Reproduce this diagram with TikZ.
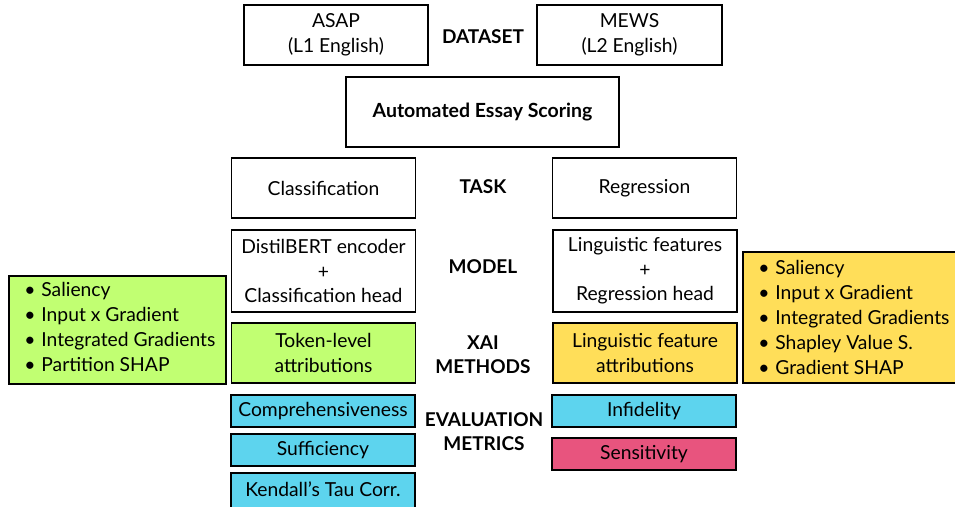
\documentclass[tikz,border=0pt]{standalone}
\usepackage{fontspec}
\setmainfont{Lato}
\definecolor{limegreen}{HTML}{C1FF72}
\definecolor{sunyellow}{HTML}{FFDE59}
\definecolor{skycyan}{HTML}{5DD4EE}
\definecolor{rosepink}{HTML}{E8547E}
\newcommand{\bitem}[1]{\makebox[17pt][l]{\textbullet}#1}

\begin{document}
\begin{tikzpicture}[x=1pt,y=-1pt,
  box/.style={draw=black,line width=1.6pt,minimum width=184pt,inner sep=0pt,align=center,font=\fontsize{19.3}{24.5}\selectfont},
  lbl/.style={align=center,font=\fontsize{19}{24}\selectfont\bfseries},
  listtext/.style={anchor=west,align=left,inner sep=0pt,font=\fontsize{19.3}{24.8}\selectfont}]
  \useasboundingbox (0,0) rectangle (955,506);
  \clip (0,0) rectangle (955,506);

  \node[box,minimum height=60pt] (asap) at (336,35) {ASAP\\(L1 English)};
  \node[box,minimum height=60pt,minimum width=185pt] (mews) at (629.5,35) {MEWS\\(L2 English)};
  \node[lbl] (dataset) at (483,37) {DATASET};

  \node[box,minimum height=70pt,minimum width=273pt,font=\fontsize{19.5}{24}\selectfont\bfseries] (aes) at (482.5,112) {Automated Essay Scoring};

  \node[box,minimum height=60pt] (cls) at (323.5,188) {Classification};
  \node[box,minimum height=60pt] (reg) at (644.5,188) {Regression};
  \node[lbl] (task) at (483,187) {TASK};

  \node[box,minimum height=82pt] (distil) at (323.5,271) {DistilBERT encoder\\+\\Classification head};
  \node[box,minimum height=82pt] (lingmod) at (645,271) {Linguistic features\\+\\Regression head};
  \node[lbl] (model) at (483,267) {MODEL};

  \node[box,fill=limegreen,minimum height=60pt] (token) at (323.5,353) {Token-level\\attributions};
  \node[box,fill=sunyellow,minimum height=60pt] (lingatt) at (645,353) {Linguistic feature\\attributions};
  \node[lbl] (xai) at (483,355) {XAI\\METHODS};

  \node[box,fill=limegreen,minimum width=217pt,minimum height=108pt] (leftlist) at (117.5,330) {};
  \node[listtext] (lefttext) at ([xshift=16pt,yshift=3pt]leftlist.west)
    {\bitem{Saliency}\\\bitem{Input x Gradient}\\\bitem{Integrated Gradients}\\\bitem{Partition SHAP}};
  \node[box,fill=sunyellow,minimum width=230pt,minimum height=131pt] (rightlist) at (858,317.5) {};
  \node[listtext] (righttext) at ([xshift=16pt]rightlist.west)
    {\bitem{Saliency}\\\bitem{Input x Gradient}\\\bitem{Integrated Gradients}\\\bitem{Shapley Value S.}\\\bitem{Gradient SHAP}};

  \node[box,fill=skycyan,minimum height=32pt] (comp) at (323,411) {Comprehensiveness};
  \node[box,fill=skycyan,minimum height=32pt] (suff) at (323,450) {Sufficiency};
  \node[box,fill=skycyan,minimum height=40pt] (kendall) at (323,493) {};
  \node[font=\fontsize{19.3}{24}\selectfont] (kendtext) at (323,489) {Kendall’s Tau Corr.};
  \node[box,fill=skycyan,minimum height=32pt] (infid) at (644,411) {Infidelity};
  \node[box,fill=rosepink,minimum height=32pt] (sens) at (644,454) {Sensitivity};
  \node[lbl] (evalm) at (484,432) {EVALUATION\\METRICS};
\end{tikzpicture}
\end{document}
